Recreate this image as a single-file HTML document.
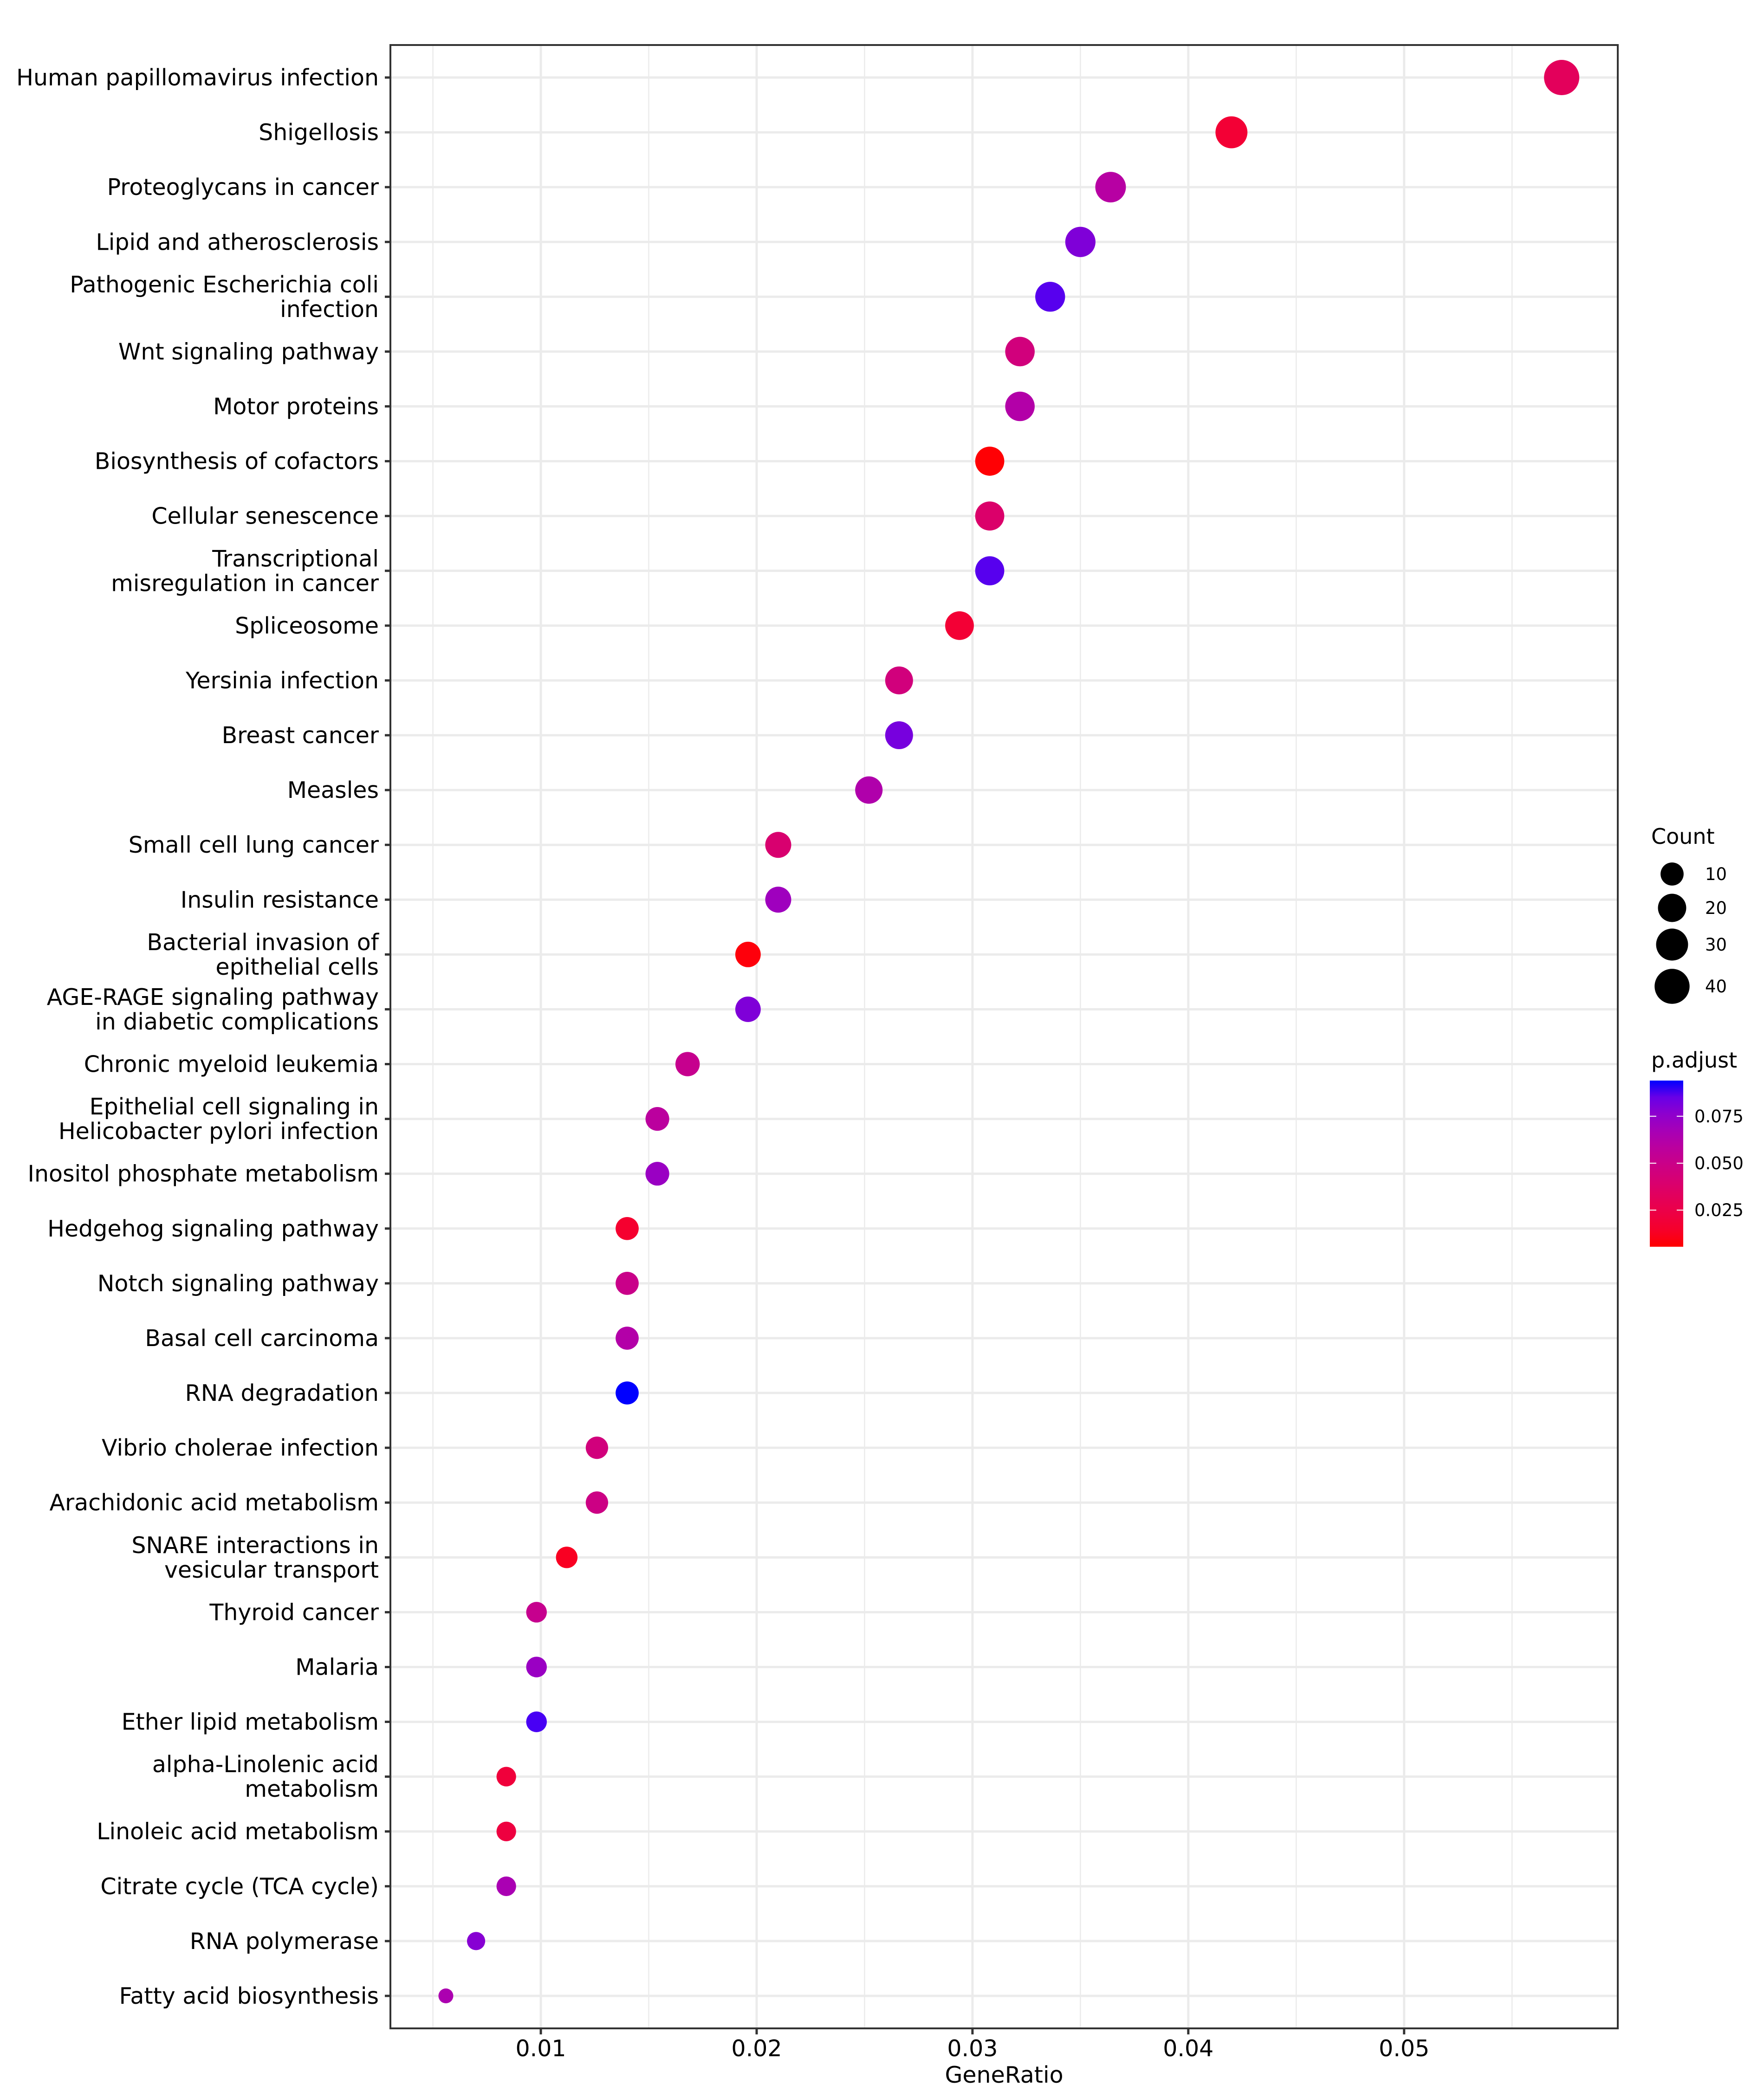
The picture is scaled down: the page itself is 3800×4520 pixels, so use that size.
<!DOCTYPE html>
<html><head><meta charset="utf-8"><style>
html,body{margin:0;padding:0;background:#fff;}
svg{display:block;font-family:"DejaVu Sans","Liberation Sans",sans-serif;}
</style></head><body>
<svg id="chart" width="3800" height="4520" viewBox="0 0 3800 4520" xmlns="http://www.w3.org/2000/svg">
<rect x="0" y="0" width="3800" height="4520" fill="#fff"/>
<g id="grid"></g>
<g id="points"></g>
<g id="axes"></g>
<g id="legend"></g>
</svg>
<script>
const categories = ["Human papillomavirus infection","Shigellosis","Proteoglycans in cancer","Lipid and atherosclerosis","Pathogenic Escherichia coli\ninfection","Wnt signaling pathway","Motor proteins","Biosynthesis of cofactors","Cellular senescence","Transcriptional\nmisregulation in cancer","Spliceosome","Yersinia infection","Breast cancer","Measles","Small cell lung cancer","Insulin resistance","Bacterial invasion of\nepithelial cells","AGE-RAGE signaling pathway\nin diabetic complications","Chronic myeloid leukemia","Epithelial cell signaling in\nHelicobacter pylori infection","Inositol phosphate metabolism","Hedgehog signaling pathway","Notch signaling pathway","Basal cell carcinoma","RNA degradation","Vibrio cholerae infection","Arachidonic acid metabolism","SNARE interactions in\nvesicular transport","Thyroid cancer","Malaria","Ether lipid metabolism","alpha-Linolenic acid\nmetabolism","Linoleic acid metabolism","Citrate cycle (TCA cycle)","RNA polymerase","Fatty acid biosynthesis"];
const counts = [41,30,26,25,24,23,23,22,22,22,21,19,19,18,15,15,14,14,12,11,11,10,10,10,10,9,9,8,7,7,7,6,6,6,5,4];
const geneRatio = [0.0573,0.0420,0.0364,0.0350,0.0336,0.0322,0.0322,0.0308,0.0308,0.0308,0.0294,0.0266,0.0266,0.0252,0.0210,0.0210,0.0196,0.0196,0.0168,0.0154,0.0154,0.0140,0.0140,0.0140,0.0140,0.0126,0.0126,0.0112,0.0098,0.0098,0.0098,0.0084,0.0084,0.0084,0.0070,0.0056];
const pAdjust = [0.032,0.018,0.060,0.080,0.088,0.045,0.062,0.006,0.038,0.088,0.018,0.045,0.082,0.063,0.040,0.070,0.007,0.080,0.052,0.058,0.072,0.016,0.050,0.062,0.094,0.045,0.048,0.012,0.052,0.072,0.090,0.020,0.022,0.066,0.078,0.065];
const xTicks = [0.01,0.02,0.03,0.04,0.05];
const xTickLabels = ["0.01","0.02","0.03","0.04","0.05"];
const sizeBreaks = [10,20,30,40];
const colorBreaks = [0.025,0.050,0.075];
const colorBreakLabels = ["0.025","0.050","0.075"];

const NS="http://www.w3.org/2000/svg";
const PL=841, PR=3485, PT=97, PB=4370;
const xMin=0.00303, xMax=0.0599;
const rowTop=167, rowBot=4300;
const pMin=0.0055, pMax=0.094;
const cMin=Math.min(...counts), cMax=Math.max(...counts);
function xs(v){return PL+(v-xMin)/(xMax-xMin)*(PR-PL);}
function ys(i){return rowTop+i*(rowBot-rowTop)/(categories.length-1);}
function rs(c){return 16+(38-16)*Math.sqrt((c-cMin)/(cMax-cMin));}
function toLab(r,g,b){
  function f(c){c/=255;return c<=0.04045?c/12.92:Math.pow((c+0.055)/1.055,2.4);}
  let R=f(r),G=f(g),B=f(b);
  let X=(R*0.4124+G*0.3576+B*0.1805)/0.95047,Y=R*0.2126+G*0.7152+B*0.0722,Z=(R*0.0193+G*0.1192+B*0.9505)/1.08883;
  function h(t){return t>0.008856?Math.cbrt(t):7.787*t+16/116;}
  return [116*h(Y)-16,500*(h(X)-h(Y)),200*(h(Y)-h(Z))];
}
function fromLab(L,a,b){
  let fy=(L+16)/116,fx=fy+a/500,fz=fy-b/200;
  function h(t){return t*t*t>0.008856?t*t*t:(t-16/116)/7.787;}
  let X=h(fx)*0.95047,Y=h(fy),Z=h(fz)*1.08883;
  let R=X*3.2406+Y*-1.5372+Z*-0.4986,G=X*-0.9689+Y*1.8758+Z*0.0415,B=X*0.0557+Y*-0.2040+Z*1.0570;
  function g(c){c=c<=0.0031308?12.92*c:1.055*Math.pow(c,1/2.4)-0.055;return Math.round(Math.max(0,Math.min(1,c))*255);}
  return "rgb("+g(R)+","+g(G)+","+g(B)+")";
}
const labRed=toLab(255,0,0), labBlue=toLab(0,0,255);
function colorOf(p){let t=Math.max(0,Math.min(1,(p-pMin)/(pMax-pMin)));return fromLab(labRed[0]+(labBlue[0]-labRed[0])*t,labRed[1]+(labBlue[1]-labRed[1])*t,labRed[2]+(labBlue[2]-labRed[2])*t);}
function mk(tag,attrs,parent){const e=document.createElementNS(NS,tag);for(const k in attrs)e.setAttribute(k,attrs[k]);parent.appendChild(e);return e;}

const grid=document.getElementById('grid'),pts=document.getElementById('points'),axes=document.getElementById('axes'),leg=document.getElementById('legend');
// panel background
mk('rect',{x:PL,y:PT,width:PR-PL,height:PB-PT,fill:'#fff'},grid);
// minor x grid
for(let i=0;i<xTicks.length+1;i++){
  const v=(xTicks[0]-0.005)+i*0.01;
  if(v<xMin||v>xMax)continue;
  const l=mk('line',{x1:xs(v),x2:xs(v),y1:PT,y2:PB,stroke:'#EBEBEB','stroke-width':2.5},grid);
  
  
}
xTicks.forEach(v=>{
  const l=mk('line',{x1:xs(v),x2:xs(v),y1:PT,y2:PB,stroke:'#EBEBEB','stroke-width':5},grid);
  
  
});
categories.forEach((c,i)=>{
  const l=mk('line',{x1:PL,x2:PR,y1:ys(i),y2:ys(i),stroke:'#EBEBEB','stroke-width':5},grid);
  
  
});
// points
categories.forEach((c,i)=>{
  const e=mk('circle',{cx:xs(geneRatio[i]),cy:ys(i),r:rs(counts[i]),fill:colorOf(pAdjust[i])},pts);
  
  
});
// border
const border=mk('rect',{x:PL,y:PT,width:PR-PL,height:PB-PT,fill:'none',stroke:'#333','stroke-width':4},axes);


// y labels
categories.forEach((c,i)=>{
  const y=ys(i);
  const tk=mk('line',{x1:PL-12,x2:PL,y1:y,y2:y,stroke:'#333','stroke-width':5},axes);
  
  
  const lines=c.split('\n');
  const t=mk('text',{x:PL-25,'text-anchor':'end','font-size':49,fill:'#000'},axes);
  
  
  lines.forEach((ln,k)=>{
    const sp=mk('tspan',{x:PL-25,y:y+17+(k-(lines.length-1)/2)*53},t);
    sp.textContent=ln;
  });
});
// x ticks
xTicks.forEach((v,i)=>{
  const tk=mk('line',{x1:xs(v),x2:xs(v),y1:PB,y2:PB+13,stroke:'#333','stroke-width':5},axes);
  
  
  const t=mk('text',{x:xs(v),y:4430,'text-anchor':'middle','font-size':49,fill:'#000'},axes);
  t.textContent=xTickLabels[i];
  
  
});
const xt=mk('text',{x:(PL+PR)/2,y:4487,'text-anchor':'middle','font-size':49,fill:'#000'},axes);
xt.textContent='GeneRatio';


// size legend
const ct=mk('text',{x:3557,y:1818,'font-size':46,fill:'#000'},leg);
ct.textContent='Count';


const legY=[1883,1956,2035,2125];
sizeBreaks.forEach((b,i)=>{
  const c=mk('circle',{cx:3602,cy:legY[i],r:rs(b),fill:'#000'},leg);
  
  
  const t=mk('text',{x:3673,y:legY[i]+13,'font-size':37,fill:'#000'},leg);
  t.textContent=String(b);
  
  
});
// color legend
const pt=mk('text',{x:3557,y:2300,'font-size':46,fill:'#000'},leg);
pt.textContent='p.adjust';


const defs=mk('defs',{},document.getElementById('chart'));
const grad=mk('linearGradient',{id:'pg',x1:0,y1:1,x2:0,y2:0},defs);
for(let k=0;k<=10;k++){mk('stop',{offset:k/10,'stop-color':colorOf(pMin+(pMax-pMin)*k/10)},grad);}
const CB0=2328,CB1=2686;
const bar=mk('rect',{x:3554,y:CB0,width:72,height:CB1-CB0,fill:'url(#pg)'},leg);


colorBreaks.forEach((b,i)=>{
  const y=CB1-(b-pMin)/(pMax-pMin)*(CB1-CB0);
  mk('line',{x1:3554,x2:3568,y1:y,y2:y,stroke:'#fff','stroke-width':2},leg);
  mk('line',{x1:3612,x2:3626,y1:y,y2:y,stroke:'#fff','stroke-width':2},leg);
  const t=mk('text',{x:3650,y:y+13,'font-size':37,fill:'#000'},leg);
  t.textContent=colorBreakLabels[i];
  
  
});
</script>
</body></html>
